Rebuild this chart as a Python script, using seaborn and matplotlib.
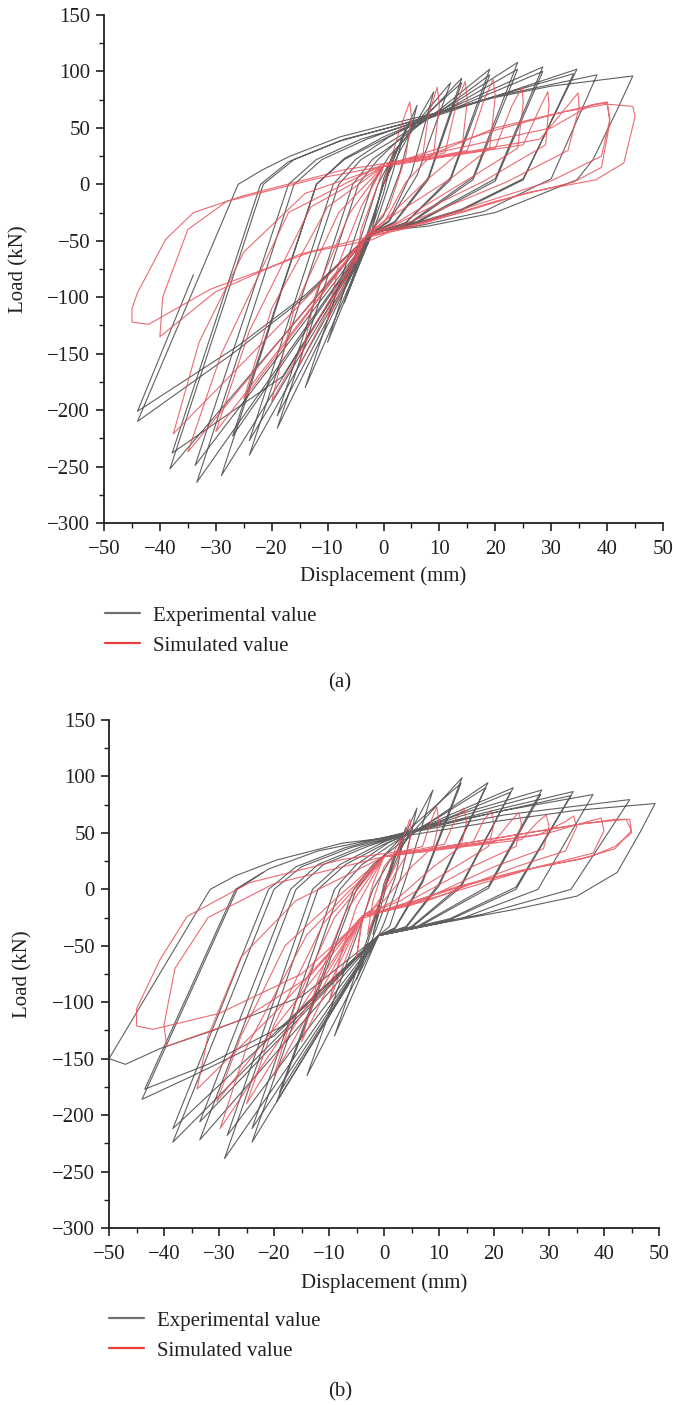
import matplotlib
matplotlib.use("Agg")
import matplotlib.pyplot as plt
import seaborn as sns
from matplotlib.ticker import MultipleLocator
from matplotlib.lines import Line2D

# ---------------- data (displacement mm, load kN) ----------------
exp_a_pts = [
    (0, 0), (2, 30), (0, 5), (-2, -38),
    (0, -8), (1, 12), (4, 50), (1.5, 8), (-1, -30), (-4, -66),
    (0, 0), (2, 25), (6, 70), (3, 12), (0, -28), (-2, -40), (-7, -105),
    (0, 0), (3, 30), (9, 82), (5, 10), (1, -32), (-2, -43), (-10, -140),
    (-1, 0), (2, 28), (6, 55), (12, 90), (6, 8), (1, -33), (-2, -43), (-14, -180),
    (-2, 0), (1, 25), (6, 52), (14, 94), (8, 6), (2, -33), (-2, -43), (-19, -216),
    (-4.5, 0), (-1, 22), (5, 50), (14, 90), (8, 4), (2, -34), (-2, -44), (-19, -205),
    (-5.5, 0), (-2, 22), (3, 40), (10, 66), (19, 102), (12, 6), (4, -34), (-2, -44), (-24, -240),
    (-8, 0), (-4, 22), (2, 40), (10, 64), (19, 97), (12, 4), (4, -34), (-2, -44), (-24, -227),
    (-9, 0), (-5, 22), (1, 42), (12, 70), (24, 108), (16, 6), (5, -33), (-2, -44), (-29, -258),
    (-12, 0), (-7, 22), (0, 40), (12, 68), (24, 102), (16, 4), (5, -34), (-2, -44), (-27, -223),
    (-12, 0), (-7, 23), (0, 42), (14, 72), (28.5, 104), (20, 5), (6, -33), (-2, -43), (-33.4, -264),
    (-16, 0), (-11, 22), (-3, 40), (14, 70), (28.5, 100), (20, 3), (6, -34), (-2, -43), (-33.7, -249),
    (-17, 0), (-12, 22), (-4, 40), (6, 55), (20, 78), (34.6, 102), (25, 5), (14, -22), (6, -34), (-2, -42), (-38.2, -252),
    (-21.5, 0), (-16, 22), (-7, 40), (4, 54), (20, 78), (34, 98), (25, 4), (14, -23), (6, -35), (-2, -42), (-18, -170), (-37.8, -238),
    (-22, 0), (-17, 20), (-8, 38), (3, 53), (20, 78), (38.2, 97), (30, 5), (18, -24), (7, -36), (-2, -42), (-14, -100), (-27, -150), (-44, -210),
    (-26, 0), (-21.6, 13), (-16.7, 25), (-7.8, 42), (0, 52), (10, 64), (20, 77), (30, 87), (44.6, 96), (41.8, 66), (37.5, 22),
    (34.6, 4), (20, -25), (8, -37), (-2, -42), (-14, -98), (-26, -143), (-44, -201), (-34, -80),
]

sim_a_pts = [
    (0, 0), (3, 50), (4.7, 73), (5, 60), (4, 25), (1, -20), (-3, -45), (-5, -70),
    (-4, -40), (-1, 0), (0, 16), (7, 25), (8, 60), (9.6, 86), (10, 70), (9, 28), (4, 2), (0, -35), (-3, -45), (-10, -120),
    (-8, -70), (-4, -20), (0, 16), (11, 28), (13, 70), (14.6, 91), (15, 75), (14, 30), (8, 5), (0, -33), (-3, -45), (-15, -160),
    (-12, -95), (-6, -25), (0, 16), (15, 30), (18, 75), (19.6, 93), (20, 78), (19, 32), (12, 5), (0, -33), (-3, -45), (-20, -192),
    (-16, -110), (-8, -25), (0, 16), (20, 32), (23, 70), (24.8, 86), (25, 72), (24, 32), (15, 4), (2, -35), (-3, -45), (-25, -190),
    (-20, -110), (-10, -20), (0, 16), (25, 35), (28, 68), (29.4, 82), (29.6, 70), (29, 35), (18, 3), (2, -36), (-3, -45), (-30, -219),
    (-24, -130), (-13, -20), (0, 16), (28, 40), (33, 70), (34.8, 81), (35, 68), (33, 30), (22, 2), (3, -37), (-3, -45), (-35, -237),
    (-29, -150), (-17, -25), (0, 18), (30, 50), (37, 70), (40, 73), (40.5, 58), (39, 25), (30, 3), (4, -38), (-3, -46), (-37.6, -221),
    (-33, -140), (-25, -60), (-14, -8), (0, 16), (20, 48), (32, 64), (38, 71), (40, 72), (40.5, 55), (39, 15), (34, 2), (20, -15),
    (5, -38), (-3, -47), (-15, -62), (-30, -95), (-40, -135),
    (-39.5, -100), (-35, -40), (-28, -15), (-12, 5), (0, 16), (8, 25), (20, 50), (32, 64), (40, 71), (44.6, 69), (45, 60), (43, 19),
    (38, 4), (26, -7), (14, -25), (2, -40), (-2, -49), (-13, -60), (-31, -93), (-42, -124), (-45, -122), (-45, -110), (-44, -96),
    (-39, -49), (-34, -25), (-25, -10), (-7, 13), (5, 22),
]

exp_b_pts = [
    (0, 0), (2, 30), (0, 5), (-2, -40),
    (0, -5), (1, 15), (4, 55), (2, 10), (-1, -30), (-5, -80),
    (0, 0), (2, 28), (6, 72), (3, 10), (0, -30), (-1, -41), (-9, -130),
    (0, 0), (3, 35), (8.9, 88), (4, 10), (1, -33), (-1, -41), (-14, -165),
    (-2, 0), (1, 25), (6, 55), (14.2, 99), (7, 8), (2, -34), (-1, -41), (-19.5, -188),
    (-5, 0), (-1, 25), (5, 55), (14, 94), (7, 6), (2, -35), (-1, -41), (-19, -180),
    (-5.5, 0), (-2, 22), (4, 45), (10, 65), (18.9, 94.5), (10, 5), (4, -33), (-1, -41), (-24, -224),
    (-8, 0), (-4, 22), (2, 42), (10, 64), (18.5, 90), (10, 3), (4, -34), (-1, -41), (-24, -212),
    (-9, 0), (-5, 22), (1, 42), (12, 66), (23.5, 90), (14, 4), (5, -33), (-1, -41), (-29, -238.5),
    (-12, 0), (-7, 22), (0, 40), (12, 64), (23, 86), (14, 2), (5, -34), (-1, -41), (-28.5, -218),
    (-13, 0), (-8, 22), (0, 42), (14, 67), (28.7, 88), (19, 3), (6, -33), (-1, -41), (-33.5, -222),
    (-16, 0), (-11, 22), (-3, 38), (14, 65), (28.5, 84), (19, 1), (6, -34), (-1, -41), (-33.5, -206),
    (-17, 0), (-12, 22), (-4, 38), (8, 55), (20, 70), (34.4, 86.6), (24, 2), (12, -26), (-1, -41), (-38.4, -224),
    (-20, 0), (-15, 20), (-6, 37), (6, 52), (20, 68), (34, 83), (24, 0), (12, -27), (-1, -41), (-38.4, -212),
    (-21, 0), (-16, 20), (-7, 37), (5, 52), (22, 70), (38, 84), (28, 0), (14, -26), (-1, -41), (-20, -130), (-34.7, -165), (-44, -186),
    (-26.7, 0), (-21, 18), (-12, 34), (0, 46), (22, 66), (44.7, 79.5), (34, 0), (18, -22), (6, -33), (-1, -41), (-15, -95),
    (-31.6, -126), (-40.7, -141), (-47, -155), (-50, -150),
    (-31.6, 0), (-27, 12), (-19.5, 26), (-7.5, 41), (4.7, 48), (20, 60), (35, 70), (49.3, 76), (46.5, 50), (42.4, 15),
    (35.1, -6), (23.5, -18), (11.4, -29), (-1, -41), (-18, -120), (-32, -155), (-43.5, -177), (-27, 0), (-22, 15),
]

sim_b_pts = [
    (0, 0), (2, 35), (3, 45), (2.5, 25), (0, 0), (-3, -40),
    (-2, -10), (0, 20), (3, 38), (4.7, 62), (5, 50), (4, 30), (1, 5), (-2, -18), (-4, -24), (-5, -60),
    (-4, -30), (-2, 5), (0, 29), (7, 38), (8.5, 60), (9.6, 73), (10, 60), (9, 38), (5, 20), (0, -10), (-4, -24), (-10, -100),
    (-8, -60), (-5, -15), (0, 29), (11, 40), (13, 62), (14.5, 72), (15, 60), (14, 38), (9, 20), (2, -10), (-4, -24), (-15, -135),
    (-12, -80), (-7, -20), (0, 29), (16, 40), (18, 60), (19.5, 70), (20, 58), (19, 38), (13, 20), (3, -10), (-4, -24), (-20, -165),
    (-16, -100), (-9, -25), (0, 29), (20, 42), (23, 60), (24.5, 68), (25, 58), (24, 38), (16, 20), (4, -12), (-4, -24), (-25, -190),
    (-20, -120), (-11, -30), (0, 29), (25, 44), (28, 60), (29.5, 66), (30, 56), (29, 36), (20, 20), (5, -14), (-4, -24), (-29.8, -212),
    (-25, -140), (-14, -40), (-6, 0), (0, 29), (28, 48), (33, 60), (34.5, 65), (35, 55), (33, 34), (24, 20), (8, -10), (-4, -24), (-30.4, -188),
    (-26, -130), (-18, -50), (-8, -5), (0, 29), (30, 50), (37, 60), (39.5, 63), (40, 52), (38, 32), (28, 20), (10, -6), (-4, -24),
    (-20, -110), (-34, -177),
    (-32, -130), (-26, -60), (-16, -10), (0, 29), (20, 45), (36, 58), (42, 62), (44.7, 62), (45, 50), (42, 38), (37.5, 29),
    (26.5, 18), (14.4, 3), (-0.7, -20), (-4, -24), (-13.5, -77), (-25.6, -115), (-39.5, -139),
    (-40, -120), (-38, -70), (-32, -25), (-20, 5), (0, 29), (20, 45), (36, 58), (44, 62), (45, 52), (42, 36), (36, 27),
    (25, 17), (13, 2), (-1, -21), (-4, -26), (-15, -75), (-30, -110), (-42, -124), (-45, -121), (-45, -106), (-40.7, -62),
    (-35.8, -24), (-24.4, 6), (-7.5, 26.5), (5, 35),
]

x_ticks = [-50, -40, -30, -20, -10, 0, 10, 20, 30, 40, 50]
y_ticks = [-300, -250, -200, -150, -100, -50, 0, 50, 100, 150]
series_labels = ["Experimental value", "Simulated value"]
captions = ["(a)", "(b)"]

# ---------------- style ----------------
sns.set_theme(style="ticks")
plt.rcParams['font.family'] = ['Liberation Serif', 'DejaVu Serif']
plt.rcParams['axes.unicode_minus'] = True
TXT = "#231f20"
EXP_C = "#4f4f4f"
SIM_C = "#e8505a"
FS = 15

fig = plt.figure(figsize=(6.73, 14.05), dpi=100)
ax_a = fig.add_axes([104 / 673, 1 - 523 / 1405, 559 / 673, 508 / 1405])
ax_b = fig.add_axes([109 / 673, 1 - 1228 / 1405, 550 / 673, 508 / 1405])


def draw(ax, exp_pts, sim_pts):
    ex = [p[0] for p in exp_pts]
    ey = [p[1] for p in exp_pts]
    sx = [p[0] for p in sim_pts]
    sy = [p[1] for p in sim_pts]
    sns.lineplot(x=ex, y=ey, sort=False, estimator=None, ax=ax, color=EXP_C, lw=0.8, alpha=0.9)
    sns.lineplot(x=sx, y=sy, sort=False, estimator=None, ax=ax, color=SIM_C, lw=0.8, alpha=0.85)
    ax.set_xlim(-50, 50)
    ax.set_ylim(-300, 150)
    ax.set_xticks(x_ticks)
    ax.set_yticks(y_ticks)
    ax.xaxis.set_minor_locator(MultipleLocator(5))
    ax.yaxis.set_minor_locator(MultipleLocator(25))
    for s in ["top", "right"]:
        ax.spines[s].set_visible(False)
    for s in ["left", "bottom"]:
        ax.spines[s].set_linewidth(1.3)
        ax.spines[s].set_color(TXT)
    ax.tick_params(axis="both", which="major", direction="out", length=6, width=1.2,
                   colors=TXT, labelsize=FS)
    ax.tick_params(axis="both", which="minor", direction="out", length=3.5, width=1.0, colors=TXT)
    ax.tick_params(axis="x", which="major", pad=6)
    ax.tick_params(axis="y", which="major", pad=4)
    ax.set_xlabel("Displacement (mm)", fontsize=FS, color=TXT)
    ax.set_ylabel("Load (kN)", fontsize=FS, color=TXT)


draw(ax_a, exp_a_pts, sim_a_pts)
draw(ax_b, exp_b_pts, sim_b_pts)

ax_a.xaxis.set_label_coords(0.5, -0.086)
ax_b.xaxis.set_label_coords(0.5, -0.090)
ax_a.yaxis.set_label_coords(-0.135, 0.5)
ax_b.yaxis.set_label_coords(-0.14, 0.5)

handles = [Line2D([], [], color="#6f6f6f", lw=1.6), Line2D([], [], color="#e8413c", lw=1.6)]
for ax, (lx, ly) in [(ax_a, (105 / 673, 1 - 606 / 1405)), (ax_b, (109 / 673, 1 - 1311 / 1405))]:
    ax.legend(handles, series_labels, loc="upper left", bbox_to_anchor=(lx, ly),
              bbox_transform=fig.transFigure, frameon=False, borderpad=0, borderaxespad=0,
              handlelength=1.7, handletextpad=0.6, labelspacing=0.5, fontsize=FS,
              labelcolor=TXT)

fig.text(340 / 673, 1 - 683 / 1405, captions[0], ha="center", va="center", fontsize=FS, color=TXT)
fig.text(340 / 673, 1 - 1392 / 1405, captions[1], ha="center", va="center", fontsize=FS, color=TXT)

fig.savefig("out.png", dpi=100, facecolor="white")
